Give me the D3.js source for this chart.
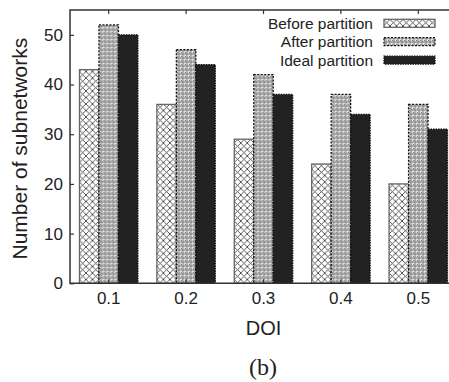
<!DOCTYPE html>
<html>
<head>
<meta charset="utf-8">
<script src="https://cdn.jsdelivr.net/npm/d3@7/dist/d3.min.js"></script>
<style>
html,body{margin:0;padding:0;background:#fff;}
svg{display:block;}
</style>
</head>
<body>
<svg id="chart" width="449" height="382"></svg>
<script>
const categories = ["0.1", "0.2", "0.3", "0.4", "0.5"];
const seriesNames = ["Before partition", "After partition", "Ideal partition"];
const beforeValues = [43, 36, 29, 24, 20];
const afterValues = [52, 47, 42, 38, 36];
const idealValues = [50, 44, 38, 34, 31];
const yTicks = [0, 10, 20, 30, 40, 50];

const seriesValues = [beforeValues, afterValues, idealValues];

const svg = d3.select("#chart");
const m = {left: 70, top: 10, right: 457, bottom: 283.3};
const font = "'Liberation Sans', Arial, Helvetica, sans-serif";

// patterns
const defs = svg.append("defs");
const p1 = defs.append("pattern").attr("id", "pBefore").attr("patternUnits", "userSpaceOnUse")
  .attr("width", 6.5).attr("height", 6.5);
p1.append("rect").attr("width", 6.5).attr("height", 6.5).attr("fill", "#fff");
p1.append("path").attr("d", "M0,0 L6.5,6.5 M6.5,0 L0,6.5 M-1,5.5 L1,7.5 M5.5,-1 L7.5,1 M-1,1 L1,-1 M5.5,7.5 L7.5,5.5")
  .attr("stroke", "#444").attr("stroke-width", 0.9).attr("fill", "none");

const p2 = defs.append("pattern").attr("id", "pAfter").attr("patternUnits", "userSpaceOnUse")
  .attr("width", 4).attr("height", 4);
p2.append("rect").attr("width", 4).attr("height", 4).attr("fill", "#e4e4e4");
p2.append("circle").attr("cx", 2).attr("cy", 2).attr("r", 1.2).attr("fill", "none")
  .attr("stroke", "#555").attr("stroke-width", 0.8);
p2.append("rect").attr("x", 0).attr("y", 0).attr("width", 0.9).attr("height", 0.9).attr("fill", "#666");

const fills = ["url(#pBefore)", "url(#pAfter)", "#222"];
const strokes = ["#666", "#111", "#111"];
const dashes = [null, "2,1.5", "1.5,1"];

// scales
const x = d3.scaleBand().domain(categories).range([m.left, m.right]).paddingInner(0.245).paddingOuter(0.1225);
const xs = d3.scaleBand().domain(seriesNames).range([0, x.bandwidth()]);
const y = d3.scaleLinear().domain([0, 55]).range([m.bottom, m.top]);

// bars
const groups = svg.append("g").selectAll("g").data(categories).join("g")
  .attr("transform", d => `translate(${x(d)},0)`);
groups.selectAll("rect").data((d, i) => seriesNames.map((s, k) => ({s, k, v: seriesValues[k][i]})))
  .join("rect")
  .attr("x", d => xs(d.s))
  .attr("y", d => y(d.v))
  .attr("width", xs.bandwidth())
  .attr("height", d => y(0) - y(d.v))
  .attr("fill", d => fills[d.k])
  .attr("stroke", d => strokes[d.k])
  .attr("stroke-width", 1.3)
  .attr("stroke-dasharray", d => dashes[d.k]);

// frame
const frameColor = "#333";
svg.append("path")
  .attr("d", `M${m.right},${m.top} L${m.left},${m.top} L${m.left},${m.bottom} L${m.right},${m.bottom}`)
  .attr("fill", "none").attr("stroke", frameColor).attr("stroke-width", 1.5);

// y axis
const yAxis = d3.axisLeft(y).tickValues(yTicks).tickSizeInner(-4).tickSizeOuter(0).tickPadding(7);
const gy = svg.append("g").attr("transform", `translate(${m.left},0)`).call(yAxis);
gy.select(".domain").remove();
gy.selectAll(".tick line").attr("stroke", frameColor).attr("stroke-width", 1.2);
gy.selectAll(".tick text").attr("font-family", font).attr("font-size", 17).attr("fill", "#222");

// x axis (bottom labels, top ticks)
const xAxis = d3.axisBottom(x).tickSizeInner(-4).tickSizeOuter(0).tickPadding(9);
const gx = svg.append("g").attr("transform", `translate(0,${m.bottom})`).call(xAxis);
gx.select(".domain").remove();
gx.selectAll(".tick line").attr("stroke", frameColor).attr("stroke-width", 1.2);
gx.selectAll(".tick text").attr("font-family", font).attr("font-size", 17).attr("fill", "#222");

const gxt = svg.append("g").attr("transform", `translate(0,${m.top})`)
  .call(d3.axisTop(x).tickSizeInner(-4).tickSizeOuter(0).tickFormat(""));
gxt.select(".domain").remove();
gxt.selectAll(".tick line").attr("stroke", frameColor).attr("stroke-width", 1.2);

// axis labels
svg.append("text").attr("x", (m.left + m.right) / 2).attr("y", 335)
  .attr("text-anchor", "middle").attr("font-family", font).attr("font-size", 20).attr("fill", "#222")
  .text("DOI");
svg.append("text").attr("transform", `translate(27,${(m.top + m.bottom) / 2 + 2}) rotate(-90)`)
  .attr("text-anchor", "middle").attr("font-family", font).attr("font-size", 21).attr("fill", "#222")
  .text("Number of subnetworks");

svg.append("text").attr("x", 263).attr("y", 375)
  .attr("text-anchor", "middle").attr("font-family", "'Liberation Serif', 'Times New Roman', serif")
  .attr("font-size", 24).attr("fill", "#222").text("(b)");

// legend
const lg = svg.append("g");
seriesNames.forEach((s, k) => {
  const cy = 23.3 + k * 18.4;
  lg.append("text").attr("x", 373).attr("y", cy + 5.5).attr("text-anchor", "end")
    .attr("font-family", font).attr("font-size", 15.5).attr("fill", "#222").text(s);
  lg.append("rect").attr("x", 384).attr("y", cy - 4).attr("width", 51).attr("height", 8)
    .attr("fill", fills[k]).attr("stroke", strokes[k]).attr("stroke-width", 1.3)
    .attr("stroke-dasharray", dashes[k]);
});
</script>
</body>
</html>
